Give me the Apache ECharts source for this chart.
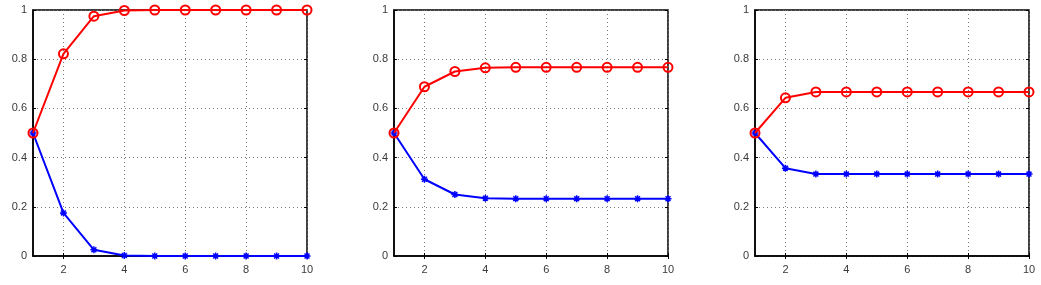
<!DOCTYPE html>
<html><head><meta charset="utf-8">
<script src="https://cdn.jsdelivr.net/npm/echarts@6/dist/echarts.min.js"></script>
<style>html,body{margin:0;padding:0;background:#fff}#c{width:1041px;height:285px}</style>
</head><body><div id="c"></div>
<script>
const steps = [1,2,3,4,5,6,7,8,9,10];
const xTicks = [2,4,6,8,10];
const yTicks = [0,0.2,0.4,0.6,0.8,1];
const red1 = [0.5,0.822,0.975,0.998,1,1,1,1,1,1];
const blue1 = [0.5,0.175,0.025,0.002,0,0,0,0,0,0];
const red2 = [0.5,0.688,0.75,0.765,0.767,0.767,0.767,0.767,0.767,0.767];
const blue2 = [0.5,0.312,0.25,0.235,0.233,0.233,0.233,0.233,0.233,0.233];
const red3 = [0.5,0.643,0.667,0.667,0.667,0.667,0.667,0.667,0.667,0.667];
const blue3 = [0.5,0.357,0.333,0.333,0.333,0.333,0.333,0.333,0.333,0.333];
const panels = [[red1,blue1],[red2,blue2],[red3,blue3]];
const lefts = [33,394,755];

const chart = echarts.init(document.getElementById('c'));
const grids=[],xAxes=[],yAxes=[],series=[];
const lab = {fontFamily:'Liberation Sans, Arial, sans-serif',fontSize:11,color:'#3a3a3a'};
const dotted = {show:true,lineStyle:{color:'#777',width:1,type:[1,3]}};
const star = 'path://M0,5 L10,5 M5,0 L5,10 M1.5,1.5 L8.5,8.5 M8.5,1.5 L1.5,8.5';
panels.forEach((p,i)=>{
  grids.push({left:lefts[i],top:10,width:274,height:246,show:true,borderColor:'#000',borderWidth:1.5,backgroundColor:'transparent'});
  const tick = {show:true,inside:true,length:3,lineStyle:{color:'#000'}};
  xAxes.push({type:'value',gridIndex:i,min:1,max:10,
    axisLine:{show:true,onZero:false,lineStyle:{color:'#000',width:1.5}},
    axisTick:Object.assign({customValues:xTicks},tick),
    axisLabel:Object.assign({customValues:xTicks,margin:8},lab),
    splitLine:Object.assign({customValues:xTicks},dotted)});
  xAxes.push({type:'value',gridIndex:i,min:1,max:10,position:'top',
    axisLine:{show:false},axisTick:Object.assign({customValues:xTicks},tick),
    axisLabel:{show:false},splitLine:{show:false}});
  yAxes.push({type:'value',gridIndex:i,min:0,max:1,interval:0.2,
    axisLine:{show:true,onZero:false,lineStyle:{color:'#000',width:1.5}},
    axisTick:tick,
    axisLabel:Object.assign({margin:6,formatter:v=>String(+v.toFixed(1))},lab),
    splitLine:dotted});
  yAxes.push({type:'value',gridIndex:i,min:0,max:1,interval:0.2,position:'right',
    axisLine:{show:false},axisTick:tick,axisLabel:{show:false},splitLine:{show:false}});
  series.push({type:'line',xAxisIndex:2*i,yAxisIndex:2*i,data:steps.map((s,k)=>[s,p[1][k]]),
    symbol:star,symbolSize:7,showAllSymbol:true,
    lineStyle:{color:'#0000ff',width:2},itemStyle:{color:'rgba(0,0,0,0)',borderColor:'#0000ff',borderWidth:1.5},z:3});
  series.push({type:'line',xAxisIndex:2*i,yAxisIndex:2*i,data:steps.map((s,k)=>[s,p[0][k]]),
    symbol:'circle',symbolSize:9,showAllSymbol:true,
    lineStyle:{color:'#ff0000',width:2},itemStyle:{color:'rgba(0,0,0,0)',borderColor:'#ff0000',borderWidth:2},z:4});
});
chart.setOption({animation:false,grid:grids,xAxis:xAxes,yAxis:yAxes,series:series});
</script></body></html>
